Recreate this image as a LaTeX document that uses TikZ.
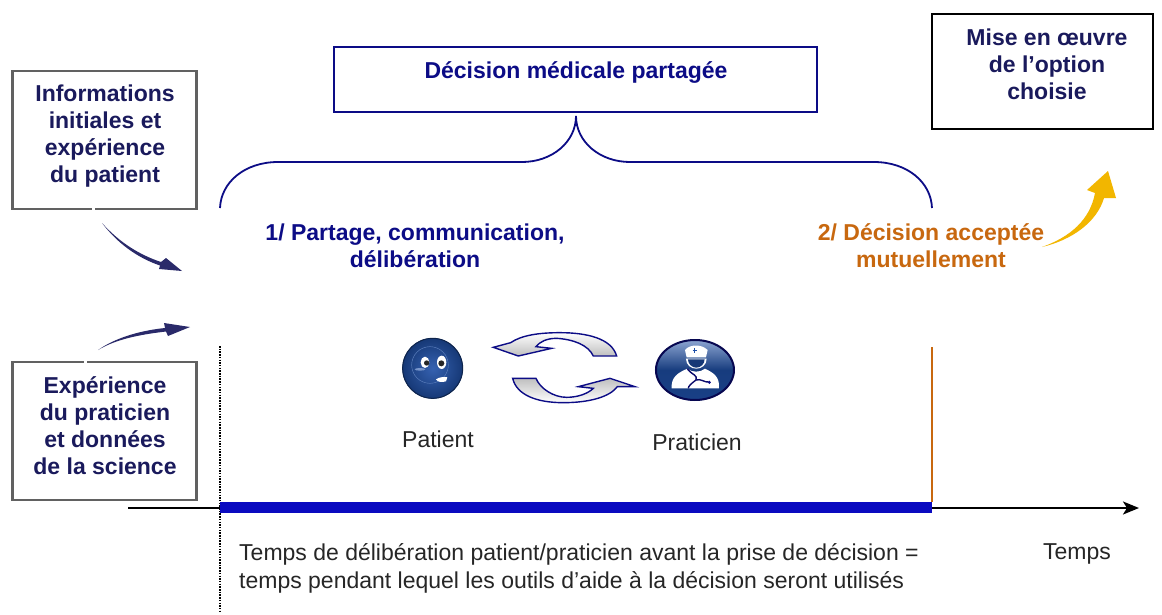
\documentclass[tikz,border=0pt]{standalone}
\usepackage{fontspec}
\setmainfont{Liberation Sans}
\usetikzlibrary{arrows.meta}
\definecolor{navy}{HTML}{0C0C86}
\definecolor{inktext}{HTML}{1A1A5C}
\definecolor{ochre}{HTML}{C8680F}
\definecolor{barblue}{HTML}{0A0AC0}
\definecolor{gold}{HTML}{F2B600}
\definecolor{tapernavy}{HTML}{2A2A6A}
\definecolor{ballblue}{HTML}{1F50A8}
\tikzset{
  x=1pt,y=-1pt,
  gbox/.style={draw=black!62,line width=2.6pt,fill=white,minimum width=184pt,minimum height=138pt,anchor=north west,inner sep=0pt},
  boxtxt/.style={font=\fontsize{23}{27}\selectfont\bfseries,align=center,text=inktext,inner sep=0pt},
  body/.style={font=\fontsize{23}{27}\selectfont,text=black!85,inner sep=0pt},
  bodyl/.style={font=\fontsize{23}{28}\selectfont,text=black!85,inner sep=0pt,align=left},
  cycleup/.style={draw=navy,line width=1.4pt,left color=white,middle color=white,right color=black!25,shading angle=0},
  cycledn/.style={draw=navy,line width=1.4pt,left color=black!25,middle color=white,right color=white,shading angle=0},
}
\begin{document}
\begin{tikzpicture}
\useasboundingbox (0,0) rectangle (1162,614);
\fill[white] (0,0) rectangle (1162,614);

% boxes
\node[draw=navy,line width=2pt,minimum width=483pt,minimum height=65pt,anchor=north west,inner sep=0pt] (dmp) at (333,46) {};
\node[boxtxt,text=navy] (dmpt) at (576,72) {Décision médicale partagée};
\node[draw=black,line width=2pt,minimum width=221pt,minimum height=115pt,anchor=north west,inner sep=0pt] (mise) at (931,13) {};
\node[boxtxt] (miset) at (1047,64) {Mise en œuvre\\de l’option\\choisie};
\node[gbox] (info) at (11.2,69.7) {};
\node[boxtxt] at (105,136) {Informations\\initiales et\\expérience\\du patient};
\node[gbox] (exp) at (11.2,360.7) {};
\node[boxtxt] at (105,426) {Expérience\\du praticien\\et données\\de la science};
\fill[white] (91.5,206) rectangle (94.5,212);
\fill[white] (84,359) rectangle (87,365);

% brace
\coordinate (bl) at (220,208);
\coordinate (br) at (932,208);
\coordinate (bm) at (576,116);
\draw[navy,line width=1.8pt] (bl) .. controls (221,182) and (245,162) .. (278,162)
  -- (522,162) .. controls (552,162) and (576,142) .. (bm)
  .. controls (576,142) and (600,162) .. (630,162)
  -- (874,162) .. controls (907,162) and (931,182) .. (br);

% headings
\node[boxtxt,text=navy] (h1) at (415,246) {1/ Partage, communication,\\délibération};
\node[boxtxt,text=ochre] (h2) at (931,246) {2/ Décision acceptée\\mutuellement};

% vertical guides
\coordinate (dt) at (220,346);
\coordinate (db) at (220,612);
\draw[black,line width=1.4pt,dash pattern=on 1.5pt off 1.2pt] (dt) -- (db);
\coordinate (ot) at (932,347);
\coordinate (ob) at (932,502);
\draw[ochre,line width=2pt] (ot) -- (ob);

% time axis
\coordinate (a0) at (128,508);
\coordinate (a1) at (1139,508);
\draw[black,line width=2pt,-{Stealth[length=16pt,width=13pt,inset=4pt]}] (a0) -- (a1);
\coordinate (b0) at (220,507.5);
\coordinate (b1) at (932,507.5);
\draw[barblue,line width=11pt] (b0) -- (b1);

% tapered arrows
\fill[tapernavy] (102,223) .. controls (120,243) and (140,255) .. (161,262)
  -- (166,258) -- (182,271) -- (159,269) -- (160,265.5)
  .. controls (138,258) and (118,244) .. (102,223) -- cycle;
\fill[tapernavy] (98,350) .. controls (118,336) and (145,330) .. (165,328)
  -- (164,323) -- (190,327) -- (168,336) -- (166,331.5)
  .. controls (145,334) and (118,338) .. (98,350) -- cycle;
\fill[gold] (1042,247) .. controls (1070,237) and (1090,220) .. (1095,193)
  -- (1087,190) -- (1108,171) -- (1116,198) -- (1104,198)
  .. controls (1097,222) and (1072,240) .. (1042,247) -- cycle;

% cycle arrows (drawn in 3x crop units)
\begin{scope}[shift={(380,320)},x=0.3333pt,y=-0.3333pt]
\draw[cycleup] (340,82) -- (392,68) .. controls (425,45) and (480,38) .. (540,38)
  .. controls (620,38) and (695,55) .. (710,108) -- (640,108)
  .. controls (625,75) and (580,58) .. (530,55)
  .. controls (500,55) and (480,65) .. (468,80) -- (515,85) -- (415,108) -- cycle;
\draw[cycledn] (398,175) -- (468,175) .. controls (480,205) and (520,232) .. (560,232)
  .. controls (595,232) and (625,220) .. (640,205) -- (595,200) -- (690,175) -- (765,200) -- (712,200)
  .. controls (690,230) and (630,248) .. (550,248)
  .. controls (470,248) and (410,225) .. (398,175) -- cycle;

% patient icon
\shade[inner color=ballblue!90!white,outer color=ballblue!70!black] (158,145) circle (91);
\draw[ballblue!45!black,line width=1pt] (158,145) circle (90);
\draw[ballblue!70!white,line width=0.4pt] (150,135) circle (55);
\fill[white] (135,127) ellipse (13 and 17);
\fill[white] (185,127) ellipse (14 and 20);
\fill[black!85] (140,129) circle (8);
\fill[black!85] (184,130) circle (9);
\fill[white] (168,178) .. controls (180,170) and (195,170) .. (202,172) -- (198,184) .. controls (185,188) and (172,186) .. (168,178) -- cycle;
\fill[ballblue!60!white] (120,148) ellipse (16 and 4);
% practitioner icon
\shade[top color=ballblue!50!white,bottom color=ballblue!80!black,middle color=ballblue!75!black] (945,150) ellipse (118 and 92);
\draw[black!40!navy,line width=2pt] (945,150) ellipse (117 and 90);
\fill[white] (915,90) .. controls (930,72) and (965,72) .. (983,90) -- (978,112) -- (920,112) -- cycle;
\fill[white] (918,116) -- (980,116) .. controls (980,135) and (965,146) .. (949,146) .. controls (933,146) and (918,135) .. (918,116) -- cycle;
\fill[ballblue!70!black] (924,118) -- (974,118) .. controls (974,132) and (962,143) .. (949,143) .. controls (936,143) and (924,132) .. (924,118) -- cycle;
\fill[white] (875,205) .. controls (873,170) and (895,158) .. (922,146) .. controls (935,158) and (962,158) .. (975,146)
  .. controls (1000,158) and (1020,170) .. (1017,205) -- cycle;
\draw[navy!80!black,line width=1.4pt] (922,146) .. controls (935,165) and (955,165) .. (948,180)
  .. controls (935,190) and (925,198) .. (925,205);
\draw[navy!80!black,line width=1.4pt] (948,180) .. controls (962,175) and (975,188) .. (985,186);
\fill[navy] (988,187) circle (5);
\draw[ballblue,line width=1pt] (938,92) -- (952,92) (945,85) -- (945,99);
\end{scope}

% labels
\node[body] (pat) at (438,439) {Patient};
\node[body] (pra) at (697,442) {Praticien};
\node[bodyl,anchor=north west] (tps) at (239,543) {Temps de délibération patient/praticien avant la prise de décision =\\temps pendant lequel les outils d’aide à la décision seront utilisés};
\node[body] (t) at (1077,554) {Temps};
\end{tikzpicture}
\end{document}
